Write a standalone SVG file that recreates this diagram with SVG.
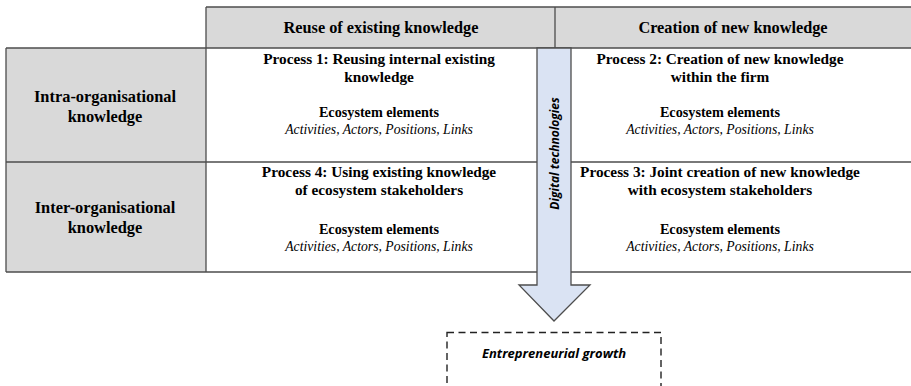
<svg xmlns="http://www.w3.org/2000/svg" width="911" height="386" viewBox="0 0 911 386">
<style>
.cell{fill:#d9d9d9;stroke:none}
.ln{stroke:#4d4d4d;stroke-width:1.3;fill:none}
.hd{font-family:"Liberation Serif",serif;font-weight:bold;font-size:16.3px;fill:#000;text-anchor:middle}
.pt{font-family:"Liberation Serif",serif;font-weight:bold;font-size:15.3px;fill:#000;text-anchor:middle}
.el{font-family:"Liberation Serif",serif;font-weight:bold;font-size:14.2px;fill:#000;text-anchor:middle}
.it{font-family:"Liberation Serif",serif;font-style:italic;font-size:13.7px;fill:#000;text-anchor:middle}
.lb{font-family:"Liberation Serif",serif;font-weight:bold;font-size:16.4px;fill:#000;text-anchor:middle}
.sn{font-family:"Open Sans","Liberation Sans",sans-serif;font-weight:bold;font-style:italic;fill:#000;text-anchor:middle}
</style>
<rect width="911" height="386" fill="#fff"/>
<g id="table">
<rect class="cell" x="206" y="7" width="705" height="41"/>
<rect class="cell" x="6" y="48" width="200" height="224"/>
<path class="ln" d="M206,7H911M6,48H911M6,162H911M6,272H911M6,48V272M206,7V272M555,7V48"/>
</g>
<g id="header-reuse"><text class="hd" x="381" y="33">Reuse of existing knowledge</text></g>
<g id="header-creation"><text class="hd" x="733" y="33">Creation of new knowledge</text></g>
<g id="row-intra"><text class="lb" x="105" y="102">Intra-organisational</text><text class="lb" x="105" y="122">knowledge</text></g>
<g id="row-inter"><text class="lb" x="105" y="213">Inter-organisational</text><text class="lb" x="105" y="233">knowledge</text></g>
<g id="process1">
<text class="pt" x="379" y="64">Process 1: Reusing internal existing</text>
<text class="pt" x="379" y="82">knowledge</text>
<text class="el" x="379" y="117">Ecosystem elements</text>
<text class="it" x="379" y="134">Activities, Actors, Positions, Links</text>
</g>
<g id="process2">
<text class="pt" x="720" y="64">Process 2: Creation of new knowledge</text>
<text class="pt" x="720" y="82">within the firm</text>
<text class="el" x="720" y="117">Ecosystem elements</text>
<text class="it" x="720" y="134">Activities, Actors, Positions, Links</text>
</g>
<g id="process4">
<text class="pt" x="379" y="177">Process 4: Using existing knowledge</text>
<text class="pt" x="379" y="195">of ecosystem stakeholders</text>
<text class="el" x="379" y="234">Ecosystem elements</text>
<text class="it" x="379" y="251">Activities, Actors, Positions, Links</text>
</g>
<g id="process3">
<text class="pt" x="720" y="177">Process 3: Joint creation of new knowledge</text>
<text class="pt" x="720" y="195">with ecosystem stakeholders</text>
<text class="el" x="720" y="234">Ecosystem elements</text>
<text class="it" x="720" y="251">Activities, Actors, Positions, Links</text>
</g>
<g id="connectors">
<path d="M537,48H571V285H590L554,321L519,285H537Z" fill="#dae3f3" stroke="#4d4d4d" stroke-width="1.3"/>
<text class="sn" font-size="12" transform="translate(558.5,153.5) rotate(-90)">Digital technologies</text>
</g>
<g id="growth">
<rect x="447" y="332.5" width="214" height="70" fill="none" stroke="#222" stroke-width="1.4" stroke-dasharray="7,4.5"/>
<text class="sn" font-size="13" x="554" y="357.5">Entrepreneurial growth</text>
</g>
</svg>
